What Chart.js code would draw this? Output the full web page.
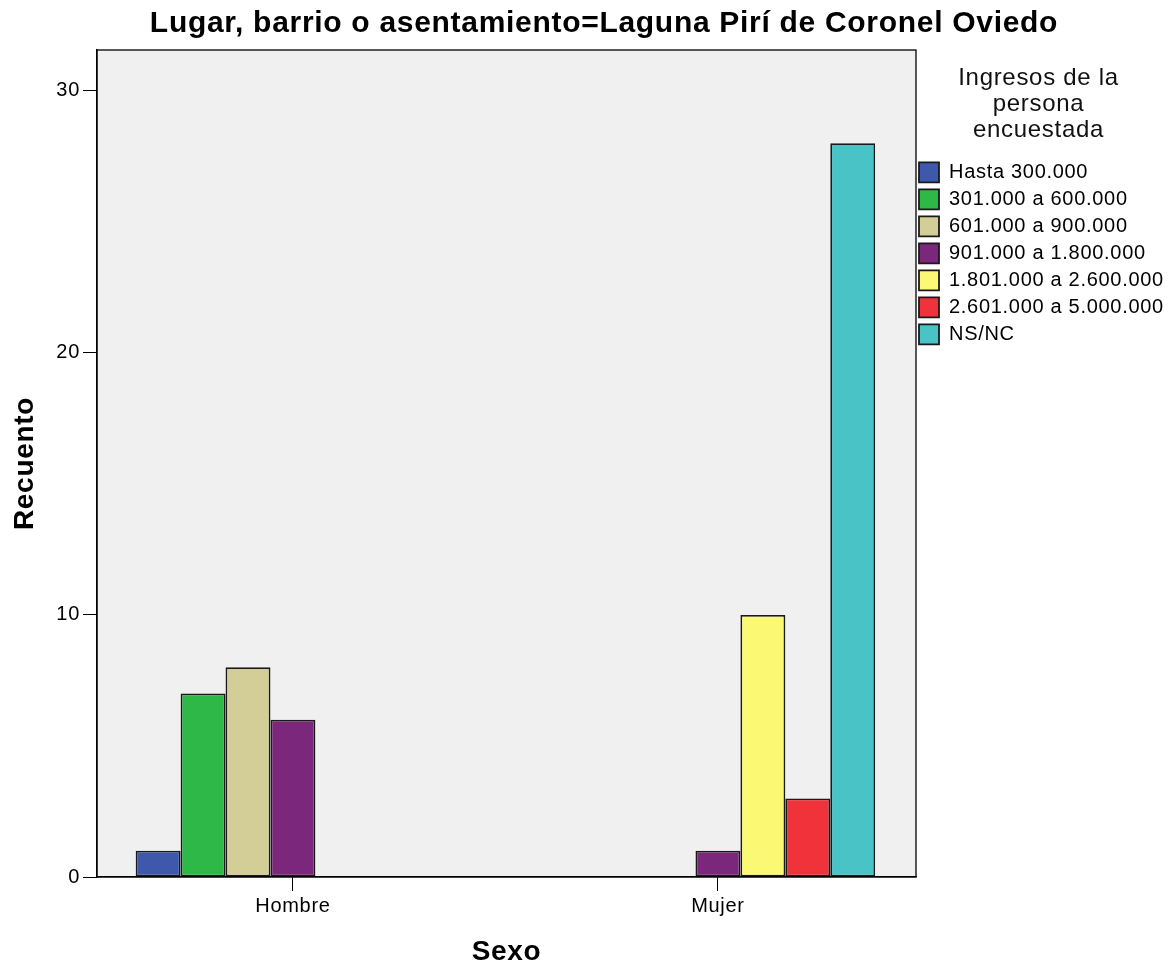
<!DOCTYPE html>
<html>
<head>
<meta charset="utf-8">
<script src="https://cdn.jsdelivr.net/npm/chart.js@4/dist/chart.umd.min.js"></script>
<style>
  body { margin: 0; background: #fff; }
  #wrap { width: 1169px; height: 967px; }
</style>
</head>
<body>
<div id="wrap"><canvas id="myChart"></canvas></div>
<script>
const categories = ["Hombre", "Mujer"];
const incomeLabels = ["Hasta 300.000", "301.000 a 600.000", "601.000 a 900.000", "901.000 a 1.800.000", "1.801.000 a 2.600.000", "2.601.000 a 5.000.000", "NS/NC"];
const hombreCounts = [1, 7, 8, 6, 0, 0, 0];
const mujerCounts = [0, 0, 0, 1, 10, 3, 28];
const barColors = ["#3e58ac", "#2eb848", "#d3ce97", "#7b277b", "#fbf873", "#f0323a", "#4ac3c6"];
const yTicks = [0, 10, 20, 30];

const fontFamily = "'Liberation Sans', Arial, sans-serif";
const spacing = "0.7px";

let datasets = [];
for (let i = 0; i < incomeLabels.length; i++) {
    datasets.push({
        label: incomeLabels[i],
        data: [hombreCounts[i], mujerCounts[i]],
        backgroundColor: barColors[i],
        borderColor: "#1a1a1a",
        borderWidth: 1.8,
        borderSkipped: false,
        barPercentage: 1,
        categoryPercentage: 0.74
    });
}

// plot background + frame like SPSS
const plotFrame = {
    id: "plotFrame",
    beforeLayout(chart) {
        chart.ctx.letterSpacing = spacing;
    },
    beforeDraw(chart) {
        const a = chart.chartArea;
        const ctx = chart.ctx;
        ctx.letterSpacing = spacing;
        ctx.save();
        ctx.fillStyle = "#f0f0f0";
        ctx.fillRect(a.left, a.top, a.right - a.left, a.bottom - a.top);
        ctx.restore();
    },
    afterDatasetsDraw(chart) {
        const a = chart.chartArea;
        const ctx = chart.ctx;
        ctx.save();
        ctx.strokeStyle = "#000";
        ctx.lineWidth = 1.3;
        ctx.strokeRect(a.left, a.top, a.right - a.left, a.bottom - a.top);
        ctx.restore();
    },
    afterLayout(chart) {
        // categories sit a bit further apart than chart.js' half-step offset
        const x = chart.scales.x;
        x._startValue = -0.461;
        x._valueRange = 1.927;
        chart.titleBlock.left = 39;
        chart.legend.left -= 4;
    }
};

new Chart(document.getElementById("myChart"), {
    type: "bar",
    data: { labels: categories, datasets: datasets },
    plugins: [plotFrame],
    options: {
        responsive: true,
        maintainAspectRatio: false,
        animation: false,
        layout: { padding: 0 },
        plugins: {
            title: {
                display: true,
                text: "Lugar, barrio o asentamiento=Laguna Pirí de Coronel Oviedo",
                color: "#000",
                font: { family: fontFamily, size: 30, weight: "bold", lineHeight: 1.2 },
                padding: { top: 6, bottom: 8 }
            },
            legend: {
                position: "right",
                align: "start",
                maxWidth: 253,
                title: {
                    display: true,
                    text: ["Ingresos de la", "persona", "encuestada"],
                    position: "center",
                    color: "#111",
                    font: { family: fontFamily, size: 24, lineHeight: 1.1 },
                    padding: { top: 66, bottom: 63 }
                },
                labels: {
                    color: "#000",
                    font: { family: fontFamily, size: 20 },
                    boxWidth: 20,
                    boxHeight: 20,
                    padding: 7
                }
            },
            tooltip: { enabled: false }
        },
        scales: {
            x: {
                offset: true,
                grid: { display: true, drawOnChartArea: false, drawTicks: true, tickLength: 14, color: "#000", offset: false },
                border: { display: true, color: "#000", width: 1.3 },
                ticks: { color: "#000", font: { family: fontFamily, size: 20 }, padding: 3, maxRotation: 0 },
                title: {
                    display: true,
                    text: "Sexo",
                    color: "#000",
                    font: { family: fontFamily, size: 28, weight: "bold", lineHeight: 1.0 },
                    padding: { top: 0, bottom: 1 }
                },
                afterFit(scale) { scale.height = 90; }
            },
            y: {
                min: 0,
                max: 31.56,
                grid: { display: true, drawOnChartArea: false, drawTicks: true, tickLength: 14, color: "#000" },
                border: { display: true, color: "#000", width: 1.3 },
                ticks: {
                    stepSize: 10,
                    includeBounds: false,
                    color: "#000",
                    font: { family: fontFamily, size: 20 },
                    padding: 3,
                    callback: (v) => yTicks.includes(v) ? v : ""
                },
                title: {
                    display: true,
                    text: "Recuento",
                    color: "#000",
                    font: { family: fontFamily, size: 28, weight: "bold", lineHeight: 1.2 },
                    padding: { top: 8, bottom: 10 }
                },
                afterFit(scale) { scale.width = 97; }
            }
        }
    }
});
</script>
</body>
</html>
